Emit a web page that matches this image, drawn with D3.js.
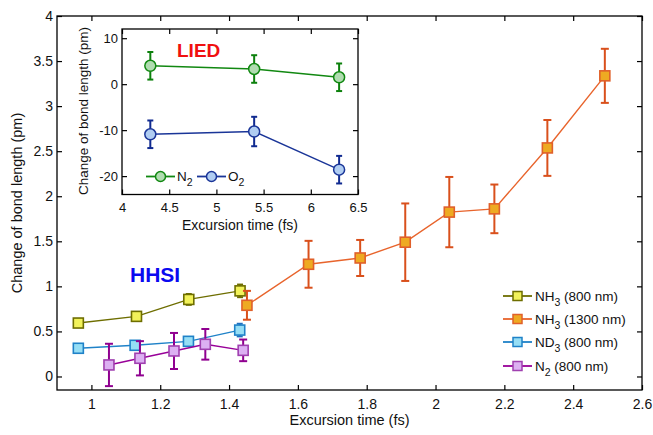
<!DOCTYPE html>
<html>
<head>
<meta charset="utf-8">
<script src="https://cdn.jsdelivr.net/npm/d3@7"></script>
<style>
  body { margin: 0; background: #fff; }
  svg { font-family: "Liberation Sans", Arial, sans-serif; }
</style>
</head>
<body>
<div id="chart"></div>
<script>
// main chart data (x = excursion time fs, y = change pm, e = error)
const nh3_800_x = [0.962, 1.131, 1.283, 1.432];
const nh3_800_y = [0.593, 0.667, 0.855, 0.95];
const nh3_800_e = [0, 0, 0.06, 0.07];

const nh3_1300_x = [1.452, 1.631, 1.781, 1.912, 2.04, 2.171, 2.325, 2.492];
const nh3_1300_y = [0.79, 1.245, 1.315, 1.49, 1.824, 1.86, 2.536, 3.336];
const nh3_1300_e = [0.16, 0.26, 0.2, 0.43, 0.39, 0.27, 0.31, 0.3];

const nd3_800_x = [0.962, 1.127, 1.282, 1.431];
const nd3_800_y = [0.313, 0.346, 0.39, 0.515];
const nd3_800_e = [0, 0, 0, 0.07];

const n2_800_x = [1.051, 1.141, 1.24, 1.331, 1.441];
const n2_800_y = [0.128, 0.202, 0.283, 0.357, 0.29];
const n2_800_e = [0.235, 0.19, 0.2, 0.17, 0.12];

// inset (LIED) data
const lied_x = [4.3, 5.4, 6.3];
const lied_n2_y = [4.0, 3.3, 1.5];
const lied_n2_e = [3.0, 3.0, 3.0];
const lied_o2_y = [-10.9, -10.3, -18.6];
const lied_o2_e = [3.0, 3.2, 3.0];

const xTicks = [1, 1.2, 1.4, 1.6, 1.8, 2, 2.2, 2.4, 2.6];
const yTicks = [0, 0.5, 1, 1.5, 2, 2.5, 3, 3.5, 4];
const insetXTicks = [4, 4.5, 5, 5.5, 6, 6.5];
const insetYTicks = [-20, -10, 0, 10];

const W = 653, H = 435;
const margin = { top: 16, right: 11, bottom: 45, left: 57 };

const svg = d3.select("#chart").append("svg")
    .attr("width", W).attr("height", H);

const x = d3.scaleLinear().domain([0.9, 2.6]).range([margin.left, W - margin.right]);
const y = d3.scaleLinear().domain([-0.15, 4]).range([H - margin.bottom, margin.top]);

// series styles
const series = [
    { name: "NH", sub: "3", tail: " (800 nm)", xs: nh3_800_x, ys: nh3_800_y, es: nh3_800_e,
      line: "#6e6e00", fill: "#f2f25a", stroke: "#6e6e00", err: "#6e6e00" },
    { name: "NH", sub: "3", tail: " (1300 nm)", xs: nh3_1300_x, ys: nh3_1300_y, es: nh3_1300_e,
      line: "#e8642c", fill: "#eeaa22", stroke: "#e0602a", err: "#d9501c" },
    { name: "ND", sub: "3", tail: " (800 nm)", xs: nd3_800_x, ys: nd3_800_y, es: nd3_800_e,
      line: "#1f82c8", fill: "#96def5", stroke: "#1f82c8", err: "#1f6fc0" },
    { name: "N", sub: "2", tail: " (800 nm)", xs: n2_800_x, ys: n2_800_y, es: n2_800_e,
      line: "#980098", fill: "#dcb0f2", stroke: "#a040b0", err: "#900090" }
];

// frame
svg.append("rect")
    .attr("x", margin.left).attr("y", margin.top)
    .attr("width", W - margin.left - margin.right)
    .attr("height", H - margin.top - margin.bottom)
    .attr("fill", "none").attr("stroke", "#000").attr("stroke-width", 1.3);

// inward ticks on all four sides
const plainFmt = d => String(d);
function drawAxes(g, xs, ys, xt, yt, fontSize, xPad, yPad) {
    const x0 = xs.range()[0], x1 = xs.range()[1];
    const y0 = ys.range()[0], y1 = ys.range()[1];
    const bottom = g.append("g").attr("transform", `translate(0,${y0})`)
        .call(d3.axisBottom(xs).tickValues(xt).tickSize(-5).tickPadding(xPad).tickFormat(plainFmt));
    const top = g.append("g").attr("transform", `translate(0,${y1})`)
        .call(d3.axisTop(xs).tickValues(xt).tickSize(-5).tickFormat(""));
    const left = g.append("g").attr("transform", `translate(${x0},0)`)
        .call(d3.axisLeft(ys).tickValues(yt).tickSize(-5).tickPadding(yPad).tickFormat(plainFmt));
    const right = g.append("g").attr("transform", `translate(${x1},0)`)
        .call(d3.axisRight(ys).tickValues(yt).tickSize(-5).tickFormat(""));
    [bottom, top, left, right].forEach(a => {
        a.select(".domain").remove();
        a.selectAll("line").attr("stroke", "#000").attr("stroke-width", 1.2);
        a.selectAll("text").attr("fill", "#111").style("font-size", fontSize + "px")
            .style("font-family", '"Liberation Sans", Arial, sans-serif');
    });
}
drawAxes(svg, x, y, xTicks, yTicks, 14, 9, 4);

// axis labels
svg.append("text")
    .attr("x", (margin.left + W - margin.right) / 2).attr("y", 425)
    .attr("text-anchor", "middle").style("font-size", "14.5px").attr("fill", "#111")
    .text("Excursion time (fs)");
svg.append("text")
    .attr("transform", `translate(22,${(margin.top + H - margin.bottom) / 2}) rotate(-90)`)
    .attr("text-anchor", "middle").style("font-size", "14.5px").attr("fill", "#111")
    .text("Change of bond length (pm)");

// draw series
const lineGen = d3.line().x(d => x(d[0])).y(d => y(d[1]));
series.forEach(s => {
    const pts = s.xs.map((v, i) => [v, s.ys[i], s.es[i]]);
    const g = svg.append("g");
    g.append("path").datum(pts).attr("d", lineGen)
        .attr("fill", "none").attr("stroke", s.line).attr("stroke-width", 1.4);
    pts.filter(p => p[2] > 0).forEach(p => {
        const cap = p[2] > 0.1 ? 4 : 3;
        const cx = x(p[0]), ya = y(p[1] + p[2]), yb = y(p[1] - p[2]);
        g.append("line").attr("x1", cx).attr("x2", cx).attr("y1", ya).attr("y2", yb)
            .attr("stroke", s.err).attr("stroke-width", 2);
        [ya, yb].forEach(yy => g.append("line")
            .attr("x1", cx - cap).attr("x2", cx + cap).attr("y1", yy).attr("y2", yy)
            .attr("stroke", s.err).attr("stroke-width", 2));
    });
    g.selectAll("rect").data(pts).enter().append("rect")
        .attr("x", d => x(d[0]) - 5).attr("y", d => y(d[1]) - 5)
        .attr("width", 10).attr("height", 10)
        .attr("fill", s.fill).attr("stroke", s.stroke).attr("stroke-width", 1.6);
});

// HHSI label
svg.append("text").attr("x", 130).attr("y", 282)
    .style("font-size", "21px").style("font-weight", "bold").attr("fill", "#0a0af0")
    .text("HHSI");

// main legend
const legY = [296, 319, 342, 366];
series.forEach((s, i) => {
    const g = svg.append("g").attr("transform", `translate(503,${legY[i]})`);
    g.append("line").attr("x1", 0).attr("x2", 29).attr("y1", 0).attr("y2", 0)
        .attr("stroke", s.line).attr("stroke-width", 1.8);
    g.append("rect").attr("x", 10).attr("y", -4.5).attr("width", 9).attr("height", 9)
        .attr("fill", s.fill).attr("stroke", s.stroke).attr("stroke-width", 1.5);
    const t = g.append("text").attr("x", 32).attr("y", 5)
        .style("font-size", "13.5px").attr("fill", "#111");
    t.append("tspan").text(s.name);
    t.append("tspan").attr("dy", 5).style("font-size", "10.5px").text(s.sub);
    t.append("tspan").attr("dy", -5).text(s.tail);
});

// ---- inset ----
const ix = d3.scaleLinear().domain([4, 6.5]).range([122, 358]);
const iy = d3.scaleLinear().domain([-24, 12]).range([194.5, 29]);
const inset = svg.append("g");
inset.append("rect").attr("x", 122).attr("y", 29).attr("width", 236).attr("height", 165.5)
    .attr("fill", "#fff").attr("stroke", "#000").attr("stroke-width", 1.3);
drawAxes(inset, ix, iy, insetXTicks, insetYTicks, 13, 8, 4);

inset.append("text")
    .attr("x", 240).attr("y", 230)
    .attr("text-anchor", "middle").style("font-size", "14px").attr("fill", "#111")
    .text("Excursion time (fs)");
inset.append("text")
    .attr("transform", `translate(88,111) rotate(-90)`)
    .attr("text-anchor", "middle").style("font-size", "13.5px").attr("fill", "#111")
    .text("Change of bond length (pm)");

const insetSeries = [
    { name: "N", sub: "2", ys: lied_n2_y, es: lied_n2_e, line: "#118811", fill: "#b0dcb0", err: "#0c800c", lx: 146 },
    { name: "O", sub: "2", ys: lied_o2_y, es: lied_o2_e, line: "#1a3598", fill: "#b0cdf2", err: "#102a90", lx: 197 }
];
const iline = d3.line().x(d => ix(d[0])).y(d => iy(d[1]));
insetSeries.forEach(s => {
    const pts = lied_x.map((v, i) => [v, s.ys[i], s.es[i]]);
    inset.append("path").datum(pts).attr("d", iline)
        .attr("fill", "none").attr("stroke", s.line).attr("stroke-width", 1.4);
    pts.forEach(p => {
        const cx = ix(p[0]), ya = iy(p[1] + p[2]), yb = iy(p[1] - p[2]);
        inset.append("line").attr("x1", cx).attr("x2", cx).attr("y1", ya).attr("y2", yb)
            .attr("stroke", s.err).attr("stroke-width", 2);
        [ya, yb].forEach(yy => inset.append("line")
            .attr("x1", cx - 3).attr("x2", cx + 3).attr("y1", yy).attr("y2", yy)
            .attr("stroke", s.err).attr("stroke-width", 2));
    });
    inset.selectAll(null).data(pts).enter().append("circle")
        .attr("cx", d => ix(d[0])).attr("cy", d => iy(d[1])).attr("r", 5.5)
        .attr("fill", s.fill).attr("stroke", s.line).attr("stroke-width", 1.5);
    // legend entry
    const g = inset.append("g").attr("transform", `translate(${s.lx},176.5)`);
    g.append("line").attr("x1", 0).attr("x2", 29).attr("y1", 0).attr("y2", 0)
        .attr("stroke", s.line).attr("stroke-width", 1.8);
    g.append("circle").attr("cx", 14.5).attr("cy", 0).attr("r", 5)
        .attr("fill", s.fill).attr("stroke", s.line).attr("stroke-width", 1.5);
    const t = g.append("text").attr("x", 31).attr("y", 4.5)
        .style("font-size", "13.5px").attr("fill", "#111");
    t.append("tspan").text(s.name);
    t.append("tspan").attr("dy", 5).style("font-size", "10.5px").text(s.sub);
});

inset.append("text").attr("x", 177).attr("y", 57)
    .style("font-size", "19px").style("font-weight", "bold").attr("fill", "#f01010")
    .text("LIED");
</script>
</body>
</html>
